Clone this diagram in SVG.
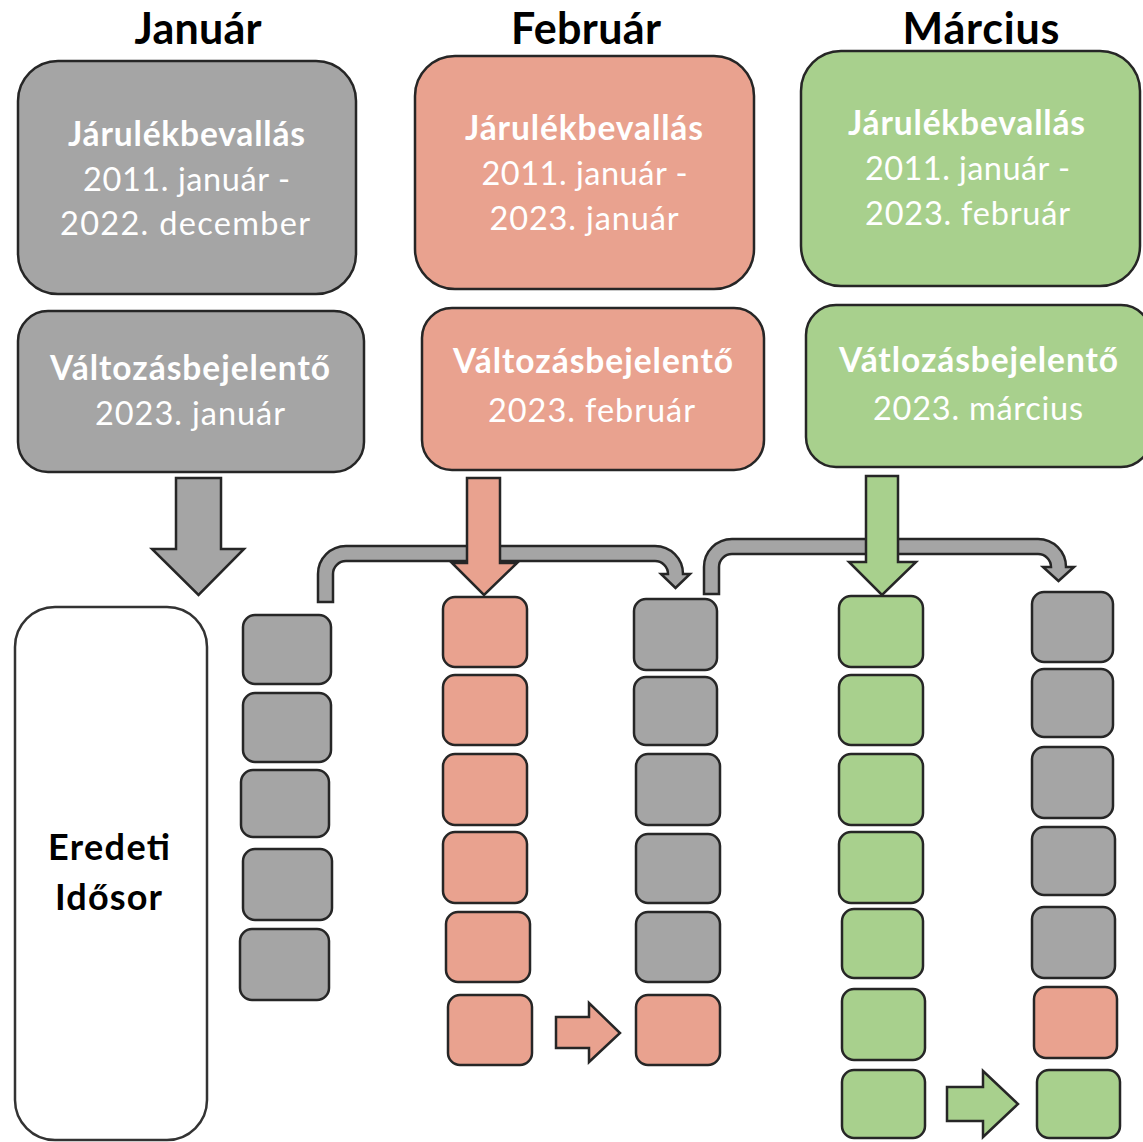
<svg xmlns="http://www.w3.org/2000/svg" width="1143" height="1142" viewBox="0 0 1143 1142">
<style>
  .gray{fill:#a5a5a5;stroke:#262626;stroke-width:2.5}
  .sal{fill:#e9a28f;stroke:#262626;stroke-width:2.5}
  .grn{fill:#a8d08d;stroke:#262626;stroke-width:2.5}
  .wht{fill:#ffffff;stroke:#333333;stroke-width:2.5}
  .title{font-family:Lato,"Liberation Sans",sans-serif;font-weight:bold;font-size:43px;fill:#000;text-anchor:middle}
  .hb{font-family:Lato,"Liberation Sans",sans-serif;font-weight:bold;font-size:33.5px;fill:#fff;text-anchor:middle}
  .hr{font-family:Lato,"Liberation Sans",sans-serif;font-size:32.5px;fill:#fff;text-anchor:middle}
  .lbl{font-family:Lato,"Liberation Sans",sans-serif;font-weight:bold;font-size:36px;fill:#000;text-anchor:middle}
</style>
<rect width="1143" height="1142" fill="#ffffff"/>

<g id="titles">
  <text class="title" x="198" y="44" textLength="127">Január</text>
  <text class="title" x="586" y="44" textLength="150">Február</text>
  <text class="title" x="981" y="44" textLength="157">Március</text>
</g>

<g id="jan-jarulek">
  <rect class="gray" x="18" y="61" width="338" height="233" rx="40"/>
  <text class="hb" x="186.5" y="146" textLength="237">Járulékbevallás</text>
  <text class="hr" x="186.5" y="191" textLength="207">2011. január -</text>
  <text class="hr" x="185" y="235" textLength="250">2022. december</text>
</g>
<g id="jan-valtozas">
  <rect class="gray" x="18" y="311" width="346" height="161" rx="30"/>
  <text class="hb" x="190" y="380" textLength="280">Változásbejelentő</text>
  <text class="hr" x="190" y="425" textLength="190">2023. január</text>
</g>

<g id="feb-jarulek">
  <rect class="sal" x="415" y="56" width="339" height="233" rx="40"/>
  <text class="hb" x="584" y="140" textLength="238">Járulékbevallás</text>
  <text class="hr" x="584.5" y="185" textLength="206">2011. január -</text>
  <text class="hr" x="584" y="230" textLength="189">2023. január</text>
</g>
<g id="feb-valtozas">
  <rect class="sal" x="422" y="308" width="342" height="162" rx="30"/>
  <text class="hb" x="593" y="373" textLength="280">Változásbejelentő</text>
  <text class="hr" x="591.5" y="422" textLength="207">2023. február</text>
</g>

<g id="mar-jarulek">
  <rect class="grn" x="801" y="51" width="339" height="235" rx="40"/>
  <text class="hb" x="966.5" y="135" textLength="237">Járulékbevallás</text>
  <text class="hr" x="967.5" y="180" textLength="205">2011. január -</text>
  <text class="hr" x="967.5" y="225" textLength="205">2023. február</text>
</g>
<g id="mar-valtozas">
  <rect class="grn" x="806" y="305" width="345" height="162" rx="30"/>
  <text class="hb" x="978.5" y="372" textLength="279">Vátlozásbejelentő</text>
  <text class="hr" x="978" y="420" textLength="210">2023. március</text>
</g>

<g id="eredeti-idosor">
  <rect class="wht" x="15" y="607" width="192" height="533" rx="40"/>
  <text class="lbl" x="109" y="860" textLength="122">Eredeti</text>
  <text class="lbl" x="108.5" y="910" textLength="107">Idősor</text>
</g>

<g id="col1">
  <rect class="gray" x="243" y="615" width="88" height="69" rx="12"/>
  <rect class="gray" x="243" y="693" width="88" height="69" rx="12"/>
  <rect class="gray" x="241" y="770" width="88" height="67" rx="12"/>
  <rect class="gray" x="243" y="849" width="89" height="71" rx="12"/>
  <rect class="gray" x="240" y="929" width="89" height="71" rx="12"/>
</g>
<g id="col2">
  <rect class="sal" x="443" y="597" width="84" height="70" rx="12"/>
  <rect class="sal" x="443" y="675" width="84" height="70" rx="12"/>
  <rect class="sal" x="443" y="754" width="84" height="71" rx="12"/>
  <rect class="sal" x="443" y="832" width="84" height="71" rx="12"/>
  <rect class="sal" x="446" y="912" width="84" height="70" rx="12"/>
  <rect class="sal" x="448" y="995" width="84" height="70" rx="12"/>
</g>
<g id="col3">
  <rect class="gray" x="634" y="599" width="83" height="71" rx="12"/>
  <rect class="gray" x="634" y="677" width="83" height="68" rx="12"/>
  <rect class="gray" x="636" y="754" width="84" height="71" rx="12"/>
  <rect class="gray" x="636" y="834" width="84" height="69" rx="12"/>
  <rect class="gray" x="636" y="912" width="84" height="70" rx="12"/>
  <rect class="sal" x="636" y="995" width="84" height="70" rx="12"/>
</g>
<g id="col4">
  <rect class="grn" x="839" y="596" width="84" height="71" rx="12"/>
  <rect class="grn" x="839" y="675" width="84" height="70" rx="12"/>
  <rect class="grn" x="839" y="754" width="84" height="71" rx="12"/>
  <rect class="grn" x="839" y="832" width="84" height="71" rx="12"/>
  <rect class="grn" x="842" y="909" width="81" height="69" rx="12"/>
  <rect class="grn" x="842" y="989" width="83" height="71" rx="12"/>
  <rect class="grn" x="842" y="1070" width="83" height="68" rx="12"/>
</g>
<g id="col5">
  <rect class="gray" x="1032" y="592" width="81" height="70" rx="12"/>
  <rect class="gray" x="1032" y="669" width="81" height="68" rx="12"/>
  <rect class="gray" x="1032" y="747" width="81" height="71" rx="12"/>
  <rect class="gray" x="1032" y="827" width="83" height="68" rx="12"/>
  <rect class="gray" x="1032" y="907" width="83" height="71" rx="12"/>
  <rect class="sal" x="1034" y="987" width="83" height="71" rx="12"/>
  <rect class="grn" x="1037" y="1070" width="83" height="68" rx="12"/>
</g>

<g id="connectors">
  <path class="gray" d="M318,602 L318,574 A28,28 0 0 1 346,546 L655,546 A28,28 0 0 1 683,574 L690,574 L675.5,588 L661,574 L668,574 A13,13 0 0 0 655,561 L346,561 A13,13 0 0 0 333,574 L333,602 Z"/>
  <path class="gray" d="M704,594 L704,567 A28,28 0 0 1 732,539 L1038,539 A28,28 0 0 1 1066,567 L1074,567 L1058.5,581 L1043,567 L1051,567 A13,13 0 0 0 1038,554 L732,554 A13,13 0 0 0 719,567 L719,594 Z"/>
  <path class="gray" d="M176,478 L221,478 L221,549 L244,549 L198.5,595 L152,549 L176,549 Z"/>
  <path class="sal" d="M467,478 L500,478 L500,563 L517,563 L484,595 L452,563 L467,563 Z"/>
  <path class="grn" d="M866,476 L898,476 L898,562 L916,562 L882,595 L849,562 L866,562 Z"/>
  <path class="sal" d="M556,1017 L589,1017 L589,1003 L620,1033 L589,1062 L589,1048 L556,1048 Z"/>
  <path class="grn" d="M947,1087 L983,1087 L983,1071 L1018,1104 L983,1137 L983,1121 L947,1121 Z"/>
</g>
</svg>
